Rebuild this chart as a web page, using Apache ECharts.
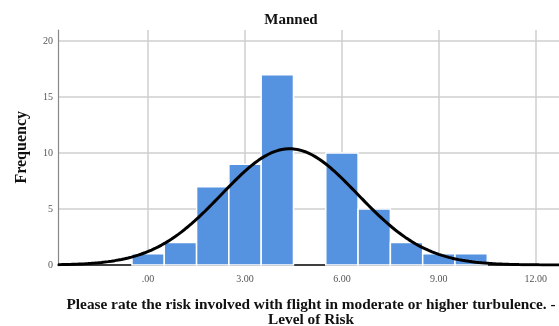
<!DOCTYPE html>
<html><head><meta charset="utf-8">
<script src="https://cdn.jsdelivr.net/npm/echarts@6/dist/echarts.min.js"></script>
<style>html,body{margin:0;padding:0;background:#fff}#c{width:559px;height:326px}</style>
</head><body><div id="c"></div>
<script>
const categories = [0,1,2,3,4,5,6,7,8,9,10];
const frequencies = [1,2,7,9,17,0,10,5,2,1,1];
const xTicks = [0,3,6,9,12];
const yTicks = [0,5,10,15,20];

const N = frequencies.reduce((a,b)=>a+b,0);
const mean = categories.reduce((s,x,i)=>s+x*frequencies[i],0)/N;
const sd = Math.sqrt(categories.reduce((s,x,i)=>s+frequencies[i]*(x-mean)*(x-mean),0)/(N-1));
const xMin = -2.79, xMax = 12.72;
const curve = [];
for (let k=0;k<=300;k++){const x=xMin+(xMax-xMin)*k/300;curve.push([x,N/(sd*Math.sqrt(2*Math.PI))*Math.exp(-0.5*((x-mean)/sd)**2)]);}
const bars = categories.map((c,i)=>[c,frequencies[i]]).filter(d=>d[1]>0);

const serif = 'Liberation Serif';
const chart = echarts.init(document.getElementById('c'));
chart.setOption({
  animation:false,
  title:[
    {text:'Manned',left:286,top:8,textAlign:'center',textStyle:{fontFamily:serif,fontWeight:'bold',fontSize:15,color:'#111'}},
    {text:'Please rate the risk involved with flight in moderate or higher turbulence. -\nLevel of Risk',left:306,top:293,textAlign:'center',textStyle:{fontFamily:serif,fontWeight:'bold',fontSize:15.3,lineHeight:15,color:'#111',align:'center'}}
  ],
  graphic:[{type:'text',left:14,top:111,rotation:Math.PI/2,style:{text:'Frequency',font:'bold 16px "Liberation Serif"',fill:'#111'}}],
  grid:{left:58,right:0,top:30,bottom:61},
  xAxis:{type:'value',min:xMin,max:xMax,
    axisLine:{show:true,onZero:false,lineStyle:{color:'#000',width:1.5}},
    axisTick:{show:false},splitLine:{show:false},
    axisLabel:{customValues:xTicks,fontFamily:serif,fontSize:10,color:'#555',margin:9,
      formatter:v=>v===0?'.00':v.toFixed(2)}},
  yAxis:{type:'value',min:0,max:21,
    axisLine:{show:true,onZero:false,lineStyle:{color:'#888',width:1.2}},
    axisTick:{show:false},splitLine:{show:false},
    axisLabel:{customValues:yTicks,fontFamily:serif,fontSize:10,color:'#555',margin:5}},
  series:[
    {type:'line',data:[],silent:true,z:1,
     markLine:{silent:true,z:0,symbol:'none',label:{show:false},lineStyle:{color:'#cfcfcf',width:1.5,type:'solid'},
       data:xTicks.map(v=>({xAxis:v})).concat(yTicks.slice(1).map(v=>({yAxis:v})))}},
    {type:'custom',z:3,data:bars,
     renderItem:(params,api)=>{
       const x=api.value(0),y=api.value(1);
       const p0=api.coord([x-0.5,y]),p1=api.coord([x+0.5,0]);
       return {type:'rect',shape:{x:p0[0],y:p0[1],width:p1[0]-p0[0],height:p1[1]-p0[1]},
         style:{fill:'#5592e0',stroke:'#fff',lineWidth:1.5}};
     }},
    {type:'line',z:5,data:curve,showSymbol:false,smooth:false,lineStyle:{color:'#000',width:3}}
  ]
});
</script></body></html>
